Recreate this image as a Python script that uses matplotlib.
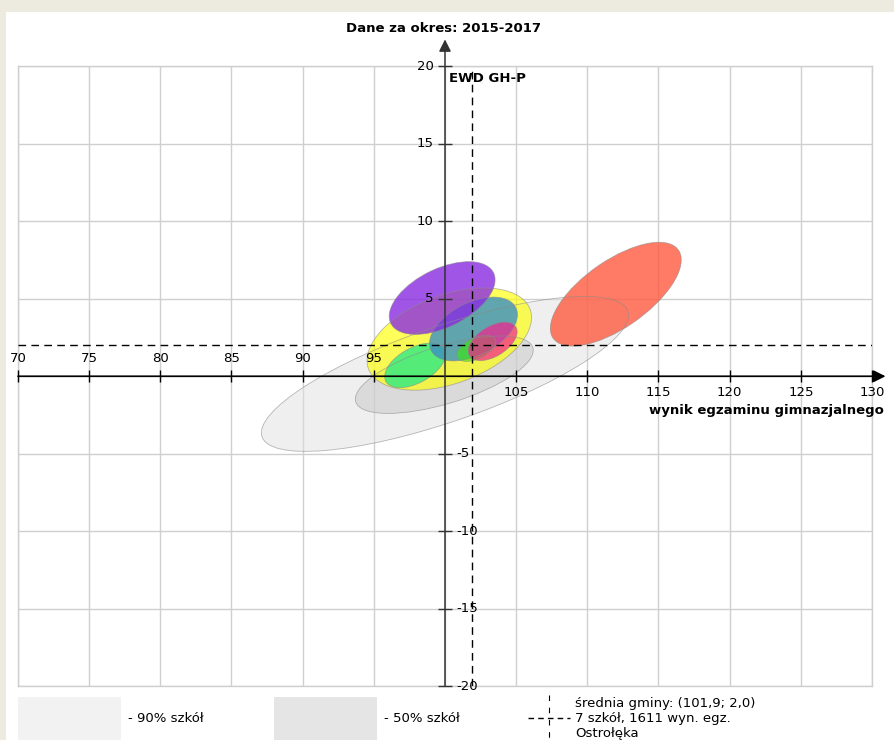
import numpy as np
import matplotlib
matplotlib.use("Agg")
import matplotlib.pyplot as plt
from matplotlib.patches import Ellipse, Rectangle
from matplotlib.lines import Line2D

plt.rcParams['font.family'] = ['DejaVu Sans']

# ---------------- data ----------------
title = "Dane za okres: 2015-2017"
x_label = "wynik egzaminu gimnazjalnego"
y_label = "EWD GH-P"
x_ticks = [70, 75, 80, 85, 90, 95, 100, 105, 110, 115, 120, 125, 130]
y_ticks = [-20, -15, -10, -5, 0, 5, 10, 15, 20]
mean_x = 101.9
mean_y = 2.0

# ellipses (drawing order): centre, half-range in x, half-range in y, correlation
ell_names = ["90% szkół", "50% szkół", "s1", "s2", "s5", "s3", "s4", "s6", "s7"]
ell_cx = [100.0, 99.95, 112.0, 100.3, 97.9, 102.0, 99.8, 102.2, 103.35]
ell_cy = [0.15, 0.10, 5.30, 2.40, 0.70, 3.05, 5.05, 1.80, 2.25]
ell_sx = [12.9, 6.25, 4.6, 5.78, 2.14, 3.09, 3.72, 1.37, 1.72]
ell_sy = [5.0, 2.5, 3.35, 3.3, 1.44, 2.06, 2.35, 0.84, 1.24]
ell_r = [0.76, 0.63, 0.66, 0.42, 0.50, 0.45, 0.50, 0.50, 0.50]
ell_color = ["#e0e0e0", "#c6c6c6", "#ff5a40", "#ffff00", "#00e890",
             "#3a8fc4", "#8a2be2", "#33ee00", "#f5208f"]
ell_alpha = [0.5, 0.5, 0.8, 0.65, 0.65, 0.8, 0.8, 0.6, 0.7]

legend_labels = ["- 90% szkół", "- 50% szkół"]
legend_colors = ["#f2f2f2", "#e5e5e5"]
mean_text = ["średnia gminy: (101,9; 2,0)", "7 szkół, 1611 wyn. egz.", "Ostrołęka"]

# ---------------- figure ----------------
W, H = 895, 740
fig = plt.figure(figsize=(W / 100, H / 100), dpi=100)
fig.patch.set_facecolor("#edeae0")
fig.add_artist(Rectangle((6 / W, 0), 1, (H - 12) / H, transform=fig.transFigure,
                         facecolor="white", edgecolor="none", zorder=0))

def fx(px):
    return px / W

def fy(py):
    return 1 - py / H

ax = fig.add_axes([fx(18), fy(686), (872 - 18) / W, (686 - 66.5) / H])
ax.set_facecolor("none")
ax.set_xlim(x_ticks[0], x_ticks[-1])
ax.set_ylim(y_ticks[0], y_ticks[-1])
ax.set_xticks(x_ticks)
ax.set_yticks(y_ticks)
ax.tick_params(length=0, labelbottom=False, labelleft=False)
ax.grid(True, color="#cfcfcf", lw=1.0, zorder=0)
for s in ax.spines.values():
    s.set_color("#cfcfcf")
    s.set_linewidth(1.0)

# ellipses
for cx, cy, sx, sy, r, c, a in zip(ell_cx, ell_cy, ell_sx, ell_sy, ell_r, ell_color, ell_alpha):
    cov = np.array([[sx * sx, r * sx * sy], [r * sx * sy, sy * sy]])
    vals, vecs = np.linalg.eigh(cov)
    width = 2 * np.sqrt(vals[1])
    height = 2 * np.sqrt(vals[0])
    ang = np.degrees(np.arctan2(vecs[1, 1], vecs[0, 1]))
    e = Ellipse((cx, cy), width, height, angle=ang, facecolor=c, alpha=a,
                edgecolor="none", zorder=2)
    ax.add_patch(e)
    e2 = Ellipse((cx, cy), width, height, angle=ang, facecolor="none",
                 edgecolor="#8a8a8a", lw=0.6, alpha=0.6, zorder=2.1)
    ax.add_patch(e2)

# mean dashed lines
ax.axvline(mean_x, color="black", lw=1.0, ls=(0, (5.5, 3.8)), zorder=4)
ax.axhline(mean_y, color="black", lw=1.0, ls=(0, (5.5, 3.8)), zorder=4)

# axes with arrows
ax.annotate("", xy=(x_ticks[-1] + 0.95, 0), xytext=(x_ticks[0], 0),
            arrowprops=dict(arrowstyle="-|>", color="black", lw=1.2,
                            mutation_scale=18, shrinkA=0, shrinkB=0),
            annotation_clip=False, zorder=5)
ax.annotate("", xy=(100, y_ticks[-1] + 1.75), xytext=(100, y_ticks[0]),
            arrowprops=dict(arrowstyle="-|>", color="#333333", lw=1.1,
                            mutation_scale=18, shrinkA=0, shrinkB=0),
            annotation_clip=False, zorder=5)

# ticks
xt = [t for t in x_ticks if t != 100]
yt = [t for t in y_ticks if t != 0]
ax.vlines(xt, -0.38, 0.38, color="black", lw=1.0, zorder=5, clip_on=False)
ax.hlines(yt, 99.5, 100.5, color="#333333", lw=1.0, zorder=5, clip_on=False)

fs = 9.5
for t in xt:
    if t < 100:
        ax.text(t, 1.13, str(t), ha="center", va="center", fontsize=fs, zorder=6)
    else:
        ax.text(t, -1.03, str(t), ha="center", va="center", fontsize=fs, zorder=6)
for t in yt:
    if t > 0:
        ax.text(99.2, t, str(t), ha="right", va="center", fontsize=fs, zorder=6)
    else:
        ax.text(100.8, t, str(t), ha="left", va="center", fontsize=fs, zorder=6)

ax.text(130.85, -2.2, x_label, ha="right", va="center", fontsize=fs,
        fontweight="bold", zorder=6)
ax.text(100.3, 19.25, y_label, ha="left", va="center", fontsize=fs,
        fontweight="bold", zorder=6)

fig.text(fx(444), fy(28), title, ha="center", va="center", fontsize=fs,
         fontweight="bold")

# legend
lx = [18, 274]
for x0, lab, col in zip(lx, legend_labels, legend_colors):
    fig.add_artist(Rectangle((fx(x0), 0), (103) / W, (740 - 697) / H,
                             transform=fig.transFigure, facecolor=col,
                             edgecolor="none"))
    fig.text(fx(x0 + 110), fy(718), lab, ha="left", va="center", fontsize=fs)

fig.add_artist(Line2D([fx(528), fx(570)], [fy(718), fy(718)], color="black",
                      lw=1.0, ls=(0, (4, 3)), transform=fig.transFigure))
fig.add_artist(Line2D([fx(549), fx(549)], [fy(695), fy(740)], color="black",
                      lw=0.8, ls=(0, (5, 6)), transform=fig.transFigure))
for i, t in enumerate(mean_text):
    fig.text(fx(575), fy(703 + i * 15.5), t, ha="left", va="center", fontsize=fs)

fig.savefig("out.png", dpi=100, facecolor=fig.get_facecolor())
